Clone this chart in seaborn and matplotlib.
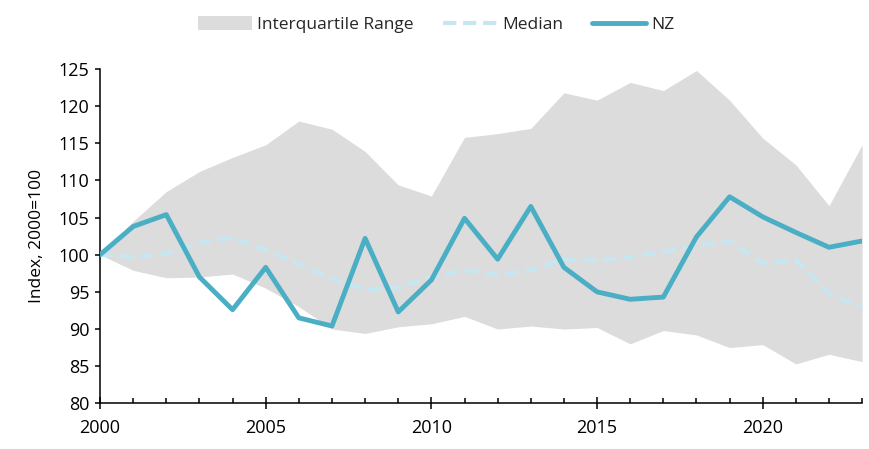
import numpy as np
import pandas as pd
import matplotlib
matplotlib.use("Agg")
import matplotlib.pyplot as plt
import seaborn as sns
from matplotlib.ticker import MultipleLocator
from matplotlib.patches import Patch
from matplotlib.lines import Line2D

years = list(range(2000, 2024))
nz = [100.0, 103.8, 105.4, 97.0, 92.6, 98.3, 91.5, 90.4, 102.2, 92.3, 96.6, 104.9,
      99.4, 106.5, 98.3, 95.0, 94.0, 94.3, 102.4, 107.8, 105.1, 103.0, 101.0, 101.85]
median = [100.0, 99.7, 100.1, 101.6, 102.3, 100.7, 98.7, 96.8, 95.3, 95.6, 97.0, 97.9,
          97.3, 97.9, 99.4, 99.2, 99.7, 100.4, 101.2, 101.9, 98.8, 99.3, 94.8, 92.9]
upper_q = [100.0, 104.5, 108.5, 111.2, 113.1, 114.8, 118.0, 116.9, 113.9, 109.4, 107.9, 115.8,
           116.3, 117.0, 121.8, 120.8, 123.2, 122.1, 124.8, 120.8, 115.7, 112.1, 106.6, 114.8]
lower_q = [100.0, 97.9, 96.9, 97.0, 97.4, 95.5, 93.0, 90.0, 89.4, 90.3, 90.7, 91.7,
           90.0, 90.4, 90.0, 90.2, 88.0, 89.8, 89.2, 87.5, 87.9, 85.3, 86.6, 85.6]

df = pd.DataFrame({"year": years, "NZ": nz, "Median": median,
                   "upper": upper_q, "lower": lower_q})

sns.set_theme(style="white")
plt.rcParams['font.family'] = ['Open Sans', 'DejaVu Sans']

fill_col = "#dcdcdc"
nz_col = "#4aaec4"
med_col = "#c6e7f1"

fig = plt.figure(figsize=(8.69, 4.49), dpi=100)
ax = fig.add_axes([0.1151, 0.1018, 0.877, 0.7445])

ax.fill_between(df["year"], df["lower"], df["upper"], color=fill_col, lw=0, zorder=1)
sns.lineplot(data=df, x="year", y="Median", ax=ax, color=med_col, lw=3,
             dashes=False, zorder=2)
ax.lines[-1].set_dashes([3.2, 1.6])
sns.lineplot(data=df, x="year", y="NZ", ax=ax, color=nz_col, lw=3.5, zorder=3)

ax.set_xlim(2000, 2023)
ax.set_ylim(80, 125)
ax.yaxis.set_major_locator(MultipleLocator(5))
ax.xaxis.set_major_locator(MultipleLocator(5))
ax.xaxis.set_minor_locator(MultipleLocator(1))

for s in ["top", "right"]:
    ax.spines[s].set_visible(False)
for s in ["left", "bottom"]:
    ax.spines[s].set_color("black")
    ax.spines[s].set_linewidth(1.1)

ax.tick_params(axis="y", which="major", direction="out", length=3.5, width=1.1,
               color="black", labelsize=13, labelcolor="black", pad=4, left=True)
ax.tick_params(axis="x", which="major", direction="inout", length=8, width=1.1,
               color="black", labelsize=13, labelcolor="black", pad=7, bottom=True)
ax.tick_params(axis="x", which="minor", direction="in", length=3.5, width=1.1,
               color="black", bottom=True)

ax.set_xlabel("")
ax.set_ylabel("Index, 2000=100", fontsize=12.5, color="black", labelpad=10)

handles = [Patch(facecolor=fill_col, edgecolor="none"),
           Line2D([0], [0], color=med_col, lw=3, dashes=[3.2, 1.6]),
           Line2D([0], [0], color=nz_col, lw=3.5)]
fig.legend(handles, ["Interquartile Range", "Median", "NZ"], loc="center",
           bbox_to_anchor=(0.502, 0.945), ncol=3, frameon=False, fontsize=12.5,
           handlelength=3.1, handleheight=0.8, columnspacing=1.7, handletextpad=0.3)

fig.savefig("out.png", dpi=100)
